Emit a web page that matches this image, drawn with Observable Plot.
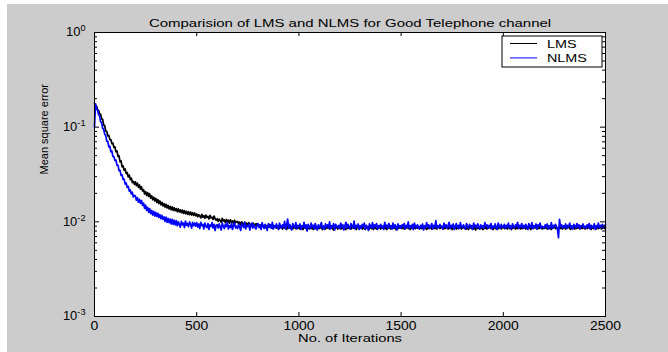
<!DOCTYPE html>
<html><head><meta charset="utf-8">
<script src="https://cdn.jsdelivr.net/npm/d3@7"></script>
<script src="https://cdn.jsdelivr.net/npm/@observablehq/plot@0.6"></script>
<style>
html,body{margin:0;padding:0;background:#ffffff;}
#chart{position:absolute;left:7px;top:4px;width:661px;height:348px;background:#cccccc;overflow:hidden;}
</style></head><body><div id="chart"></div>
<script>
const title = "Comparision of LMS and NLMS for Good Telephone channel";
const xLabel = "No. of Iterations";
const yLabel = "Mean square error";
const seriesNames = ["LMS", "NLMS"];
const seriesColors = ["#000000", "#0000ff"];
const step = 5; // iterations between samples (one row = 100 iterations)

const lms = [
.180,.168,.167,.152,.151,.139,.137,.122,.121,.105,.104,.091,.090,.081,.082,.074,.074,.067,.068,.061,
.062,.055,.056,.049,.050,.043,.044,.038,.039,.035,.0362,.0323,.0332,.0298,.0312,.0279,.0290,.0260,.0268,.0249,
.0265,.0241,.0256,.0231,.0245,.0221,.0234,.0212,.0219,.0197,.0209,.0190,.0204,.0185,.0198,.0178,.0188,.0171,.0182,.0166,
.0177,.0160,.0172,.0156,.0166,.0151,.0161,.0147,.0156,.0143,.0153,.0140,.0149,.0137,.0146,.0134,.0144,.0132,.0141,.0131,
.0138,.0128,.0137,.0127,.0134,.0125,.0133,.0123,.0131,.0122,.0129,.0120,.0128,.0119,.0127,.0118,.0125,.0117,.0124,.0116,
.0121,.0113,.0119,.0115,.0110,.0120,.0112,.0116,.0109,.0118,.0111,.0114,.0107,.0117,.0110,.0112,.0106,.0115,.0108,.0104,
.0108,.0101,.0107,.0103,.0099,.0109,.0102,.0105,.0098,.0106,.0100,.0104,.0097,.0105,.0099,.0102,.0096,.0104,.0098,.0100,
.0101,.0095,.0099,.0093,.0100,.0096,.0092,.0099,.0094,.0097,.0091,.0098,.0095,.0093,.0090,.0097,.0094,.0091,.0096,.0092,
.0094,.0089,.0093,.0087,.0095,.0090,.0088,.0093,.0086,.0091,.0089,.0094,.0087,.0090,.0085,.0092,.0088,.0091,.0086,.0090,
.0089,.0085,.0091,.0087,.0084,.0090,.0086,.0088,.0083,.0089,.0086,.0091,.0085,.0088,.0084,.0090,.0087,.0085,.0089,.0086,
.0088,.0084,.0090,.0086,.0083,.0089,.0087,.0085,.0091,.0086,.0084,.0088,.0085,.0090,.0083,.0087,.0089,.0084,.0088,.0086,
.0085,.0089,.0086,.0083,.0090,.0087,.0084,.0088,.0086,.0091,.0084,.0087,.0089,.0085,.0082,.0088,.0086,.0090,.0084,.0087,
.0089,.0084,.0087,.0085,.0090,.0086,.0083,.0088,.0085,.0089,.0087,.0084,.0091,.0086,.0085,.0088,.0083,.0087,.0089,.0085,
.0086,.0090,.0084,.0088,.0085,.0083,.0089,.0086,.0088,.0084,.0090,.0085,.0087,.0083,.0089,.0086,.0084,.0088,.0086,.0090,
.0084,.0088,.0086,.0091,.0085,.0087,.0083,.0089,.0086,.0088,.0084,.0090,.0085,.0087,.0086,.0083,.0089,.0085,.0088,.0086,
.0087,.0085,.0089,.0084,.0088,.0086,.0091,.0085,.0087,.0083,.0089,.0086,.0084,.0088,.0085,.0090,.0086,.0087,.0084,.0089,
.0085,.0088,.0084,.0090,.0086,.0083,.0088,.0085,.0089,.0087,.0084,.0091,.0086,.0085,.0088,.0084,.0087,.0090,.0085,.0087,
.0088,.0084,.0087,.0085,.0091,.0086,.0084,.0089,.0085,.0088,.0083,.0087,.0086,.0090,.0084,.0088,.0085,.0087,.0089,.0084,
.0086,.0089,.0085,.0088,.0084,.0087,.0083,.0090,.0086,.0085,.0088,.0084,.0087,.0082,.0089,.0085,.0087,.0084,.0088,.0086,
.0083,.0087,.0085,.0089,.0084,.0088,.0086,.0090,.0085,.0087,.0083,.0088,.0086,.0084,.0089,.0085,.0088,.0086,.0084,.0087,
.0088,.0085,.0089,.0086,.0084,.0090,.0085,.0087,.0083,.0089,.0086,.0088,.0084,.0087,.0085,.0091,.0086,.0084,.0088,.0085,
.0086,.0090,.0084,.0087,.0085,.0089,.0086,.0083,.0088,.0085,.0090,.0086,.0087,.0084,.0088,.0085,.0089,.0086,.0084,.0087,
.0085,.0088,.0086,.0084,.0089,.0085,.0087,.0083,.0088,.0086,.0090,.0085,.0087,.0084,.0086,.0089,.0085,.0088,.0084,.0087,
.0087,.0084,.0088,.0086,.0089,.0085,.0083,.0088,.0086,.0087,.0084,.0090,.0085,.0088,.0086,.0084,.0089,.0085,.0087,.0086,
.0084,.0088,.0085,.0089,.0086,.0087,.0083,.0088,.0085,.0090,.0086,.0084,.0088,.0085,.0087,.0089,.0084,.0086,.0088,.0085,
.0087
];

const nlms = [
.100,.176,.158,.152,.136,.131,.114,.111,.097,.095,.084,.082,.071,.071,.062,.063,.055,.056,.049,.049,
.0445,.0448,.0398,.0396,.0348,.0350,.0309,.0314,.0280,.0283,.0250,.0258,.0231,.0237,.0211,.0217,.0197,.0206,.0183,.0190,
.0188,.0169,.0180,.0161,.0173,.0157,.0168,.0149,.0158,.0139,.0150,.0132,.0142,.0126,.0138,.0122,.0132,.0118,.0129,.0115,
.0126,.0114,.0123,.0111,.0119,.0108,.0117,.0106,.0113,.0101,.0112,.0099,.0109,.0098,.0107,.0095,.0106,.0094,.0104,.0093,
.0103,.0091,.0100,.0094,.0088,.0101,.0093,.0097,.0087,.0102,.0092,.0096,.0089,.0100,.0094,.0086,.0099,.0091,.0097,.0090,
.0098,.0088,.0095,.0085,.0099,.0091,.0094,.0084,.0097,.0090,.0087,.0096,.0083,.0093,.0089,.0098,.0086,.0094,.0081,.0092,
.0093,.0086,.0095,.0088,.0082,.0097,.0090,.0085,.0094,.0089,.0099,.0084,.0091,.0087,.0096,.0083,.0092,.0098,.0086,.0090,
.0085,.0094,.0088,.0081,.0096,.0091,.0087,.0099,.0084,.0092,.0089,.0095,.0082,.0090,.0097,.0086,.0093,.0088,.0084,.0091,
.0096,.0087,.0092,.0083,.0098,.0089,.0085,.0094,.0090,.0081,.0095,.0088,.0093,.0086,.0099,.0084,.0091,.0087,.0095,.0089,
.0083,.0097,.0090,.0086,.0093,.0088,.0101,.0084,.0092,.0107,.0085,.0094,.0089,.0082,.0096,.0091,.0087,.0098,.0084,.0092,
.0089,.0095,.0083,.0091,.0087,.0099,.0086,.0093,.0080,.0094,.0090,.0085,.0097,.0088,.0092,.0084,.0096,.0089,.0082,.0093,
.0087,.0092,.0098,.0085,.0090,.0083,.0095,.0089,.0093,.0086,.0100,.0084,.0091,.0088,.0096,.0082,.0094,.0090,.0087,.0092,
.0085,.0097,.0088,.0093,.0082,.0091,.0099,.0086,.0094,.0089,.0084,.0096,.0090,.0087,.0102,.0085,.0092,.0088,.0095,.0083,
.0091,.0086,.0094,.0089,.0097,.0084,.0092,.0088,.0081,.0095,.0090,.0087,.0098,.0085,.0093,.0089,.0096,.0083,.0091,.0088,
.0094,.0087,.0090,.0083,.0099,.0089,.0092,.0085,.0096,.0088,.0091,.0084,.0097,.0086,.0093,.0090,.0082,.0095,.0088,.0091,
.0086,.0093,.0089,.0096,.0084,.0092,.0088,.0100,.0085,.0091,.0087,.0094,.0083,.0097,.0090,.0086,.0093,.0089,.0084,.0092,
.0088,.0095,.0082,.0091,.0087,.0098,.0089,.0093,.0085,.0090,.0096,.0084,.0092,.0088,.0103,.0086,.0091,.0087,.0094,.0089,
.0090,.0084,.0097,.0088,.0093,.0086,.0091,.0099,.0085,.0092,.0088,.0095,.0083,.0090,.0096,.0087,.0092,.0085,.0098,.0089,
.0087,.0093,.0089,.0084,.0096,.0090,.0086,.0094,.0088,.0091,.0083,.0097,.0089,.0092,.0086,.0095,.0090,.0084,.0093,.0088,
.0091,.0086,.0098,.0089,.0093,.0085,.0092,.0088,.0096,.0084,.0090,.0087,.0095,.0089,.0083,.0097,.0091,.0086,.0094,.0088,
.0089,.0094,.0085,.0092,.0088,.0097,.0086,.0091,.0084,.0095,.0090,.0087,.0093,.0089,.0099,.0085,.0092,.0088,.0096,.0087,
.0092,.0086,.0094,.0089,.0083,.0096,.0090,.0087,.0098,.0085,.0091,.0088,.0095,.0084,.0093,.0089,.0097,.0086,.0090,.0088,
.0086,.0093,.0089,.0095,.0084,.0091,.0087,.0098,.0085,.0092,.0088,.0094,.0090,.0083,.0068,.0106,.0089,.0093,.0086,.0091,
.0088,.0095,.0085,.0092,.0089,.0097,.0086,.0091,.0084,.0094,.0090,.0087,.0096,.0088,.0093,.0085,.0091,.0089,.0095,.0087,
.0090,.0086,.0093,.0088,.0096,.0084,.0092,.0089,.0087,.0095,.0083,.0091,.0088,.0097,.0086,.0092,.0089,.0094,.0087,.0091,
.0093
];

const xTicks = [0, 500, 1000, 1500, 2000, 2500];
const yTicks = [0.001, 0.01, 0.1, 1];
const yTickLabels = ["10^-3", "10^-2", "10^-1", "10^0"];
const yMinorTicks = [0.002,0.003,0.004,0.005,0.006,0.007,0.008,0.009,
  0.02,0.03,0.04,0.05,0.06,0.07,0.08,0.09,
  0.2,0.3,0.4,0.5,0.6,0.7,0.8,0.9];

const rows = [
  ...lms.map((v, i) => ({it: i * step, mse: v, series: seriesNames[0]})),
  ...nlms.map((v, i) => ({it: i * step, mse: v, series: seriesNames[1]}))
];

const W = 661, H = 348;
const mL = 87, mR = 63, mT = 28, mB = 36;
const pw = W - mL - mR, ph = H - mT - mB;

const svg = Plot.plot({
  width: W, height: H,
  marginLeft: mL, marginRight: mR, marginTop: mT, marginBottom: mB,
  style: {background: "transparent", fontFamily: "'Liberation Sans', Arial, sans-serif", fontSize: "11px", color: "black"},
  x: {domain: [0, 2500]},
  y: {type: "log", domain: [0.001, 1]},
  color: {domain: seriesNames, range: seriesColors},
  marks: [
    Plot.frame({fill: "white", stroke: null}),
    Plot.line(rows, {x: "it", y: "mse", z: "series", stroke: "series", strokeWidth: 1.7}),
    Plot.frame({stroke: "black", strokeWidth: 1}),
    Plot.tickX(xTicks, {x: d => d, insetTop: ph - 4, stroke: "black"}),
    Plot.tickX(xTicks, {x: d => d, insetBottom: ph - 4, stroke: "black"}),
    Plot.tickY(yTicks, {y: d => d, insetRight: pw - 5, stroke: "black"}),
    Plot.tickY(yTicks, {y: d => d, insetLeft: pw - 5, stroke: "black"}),
    Plot.tickY(yMinorTicks, {y: d => d, insetRight: pw - 3, stroke: "black"}),
    Plot.tickY(yMinorTicks, {y: d => d, insetLeft: pw - 3, stroke: "black"}),
    Plot.axisX(xTicks, {tickSize: 0, tickPadding: 5, fontSize: 12, label: null, tickFormat: d => String(d)}),
    Plot.axisY(yTicks, {tickSize: 0, tickPadding: 9, fontSize: 12, label: null, tickFormat: d => yTickLabels[yTicks.indexOf(d)]}),
    Plot.text([title], {frameAnchor: "top", dy: -13, fontSize: 11, fill: "black"}),
    Plot.text([xLabel], {frameAnchor: "bottom", dy: 25, fontSize: 11.5, fill: "black"}),
    Plot.text([yLabel], {frameAnchor: "left", dx: -50, rotate: -90, fontSize: 11, fill: "black"})
  ]
});

document.getElementById("chart").appendChild(svg);

// superscript exponents on the log-axis labels
svg.querySelectorAll("text").forEach(t => {
  const s = t.textContent;
  const m = /^10\^(-?\d+)$/.exec(s);
  if (m) {
    t.textContent = "10";
    const sup = document.createElementNS("http://www.w3.org/2000/svg", "tspan");
    sup.setAttribute("dy", "-5");
    sup.setAttribute("font-size", "8.5");
    sup.textContent = m[1];
    t.appendChild(sup);
    t.dataset.kind = "ytick";
  }
});

// legend box
const g = d3.select(svg).append("g").attr("text-anchor", "start");
const lx = W - mR - 103, ly = mT + 4;
g.append("rect").attr("x", lx).attr("y", ly).attr("width", 100).attr("height", 31)
  .attr("fill", "white").attr("stroke", "black").attr("stroke-width", 1);
seriesNames.forEach((name, i) => {
  const yy = ly + 7.5 + i * 14.4;
  g.append("line").attr("x1", lx + 8).attr("x2", lx + 35).attr("y1", yy).attr("y2", yy)
    .attr("stroke", seriesColors[i]).attr("stroke-width", 1);
  g.append("text").attr("x", lx + 45).attr("y", yy + 4).attr("font-size", 11.5)
    .attr("text-anchor", "start").attr("fill", "black").text(name);
});

// widen glyphs to match the horizontally stretched original
svg.querySelectorAll("text").forEach(t => {
  const s = t.textContent;
  if (s === yLabel) return;
  let f = 1.25;
  if (s === title) f = 1.36;
  else if (s === xLabel) f = 1.28;
  else if (t.dataset.kind === "ytick") f = 1.08;
  else if (/^\d+$/.test(s)) f = 1.16;
  const L = t.getComputedTextLength();
  if (L > 0) {
    t.setAttribute("textLength", (L * f).toFixed(1));
    t.setAttribute("lengthAdjust", "spacingAndGlyphs");
  }
});
</script></body></html>
